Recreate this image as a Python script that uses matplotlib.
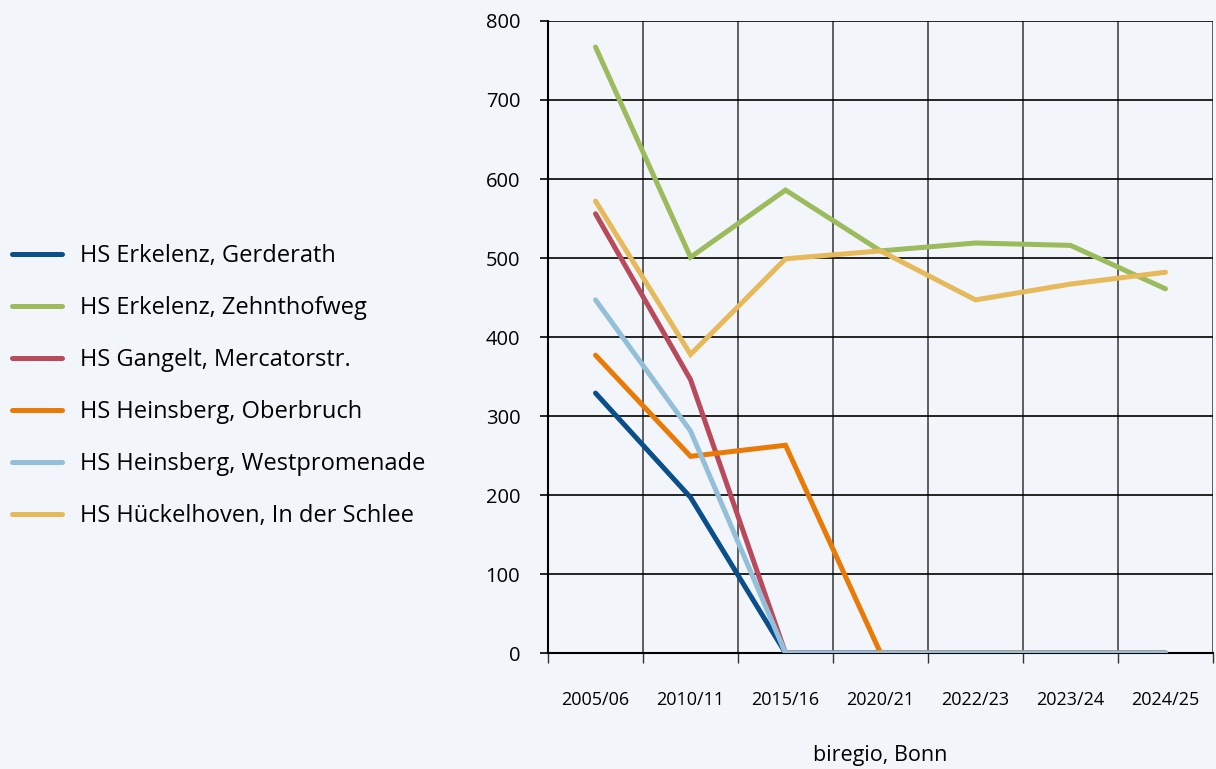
import matplotlib.pyplot as plt
import numpy as np

years = ['2005/06', '2010/11', '2015/16', '2020/21', '2022/23', '2023/24', '2024/25']

gerderath = [329, 197, 0, 0, 0, 0, 0]
zehnthofweg = [767, 501, 586, 509, 519, 516, 461]
gangelt = [556, 346, 0, 0, 0, 0, 0]
oberbruch = [377, 249, 263, 0, 0, 0, 0]
westpromenade = [447, 281, 0, 0, 0, 0, 0]
hueckelhoven = [572, 378, 499, 509, 447, 467, 482]

series = [
    ('HS Erkelenz, Gerderath', gerderath, '#0b4f8a'),
    ('HS Erkelenz, Zehnthofweg', zehnthofweg, '#9bbb5c'),
    ('HS Gangelt, Mercatorstr.', gangelt, '#b84a5b'),
    ('HS Heinsberg, Oberbruch', oberbruch, '#e97a05'),
    ('HS Heinsberg, Westpromenade', westpromenade, '#93bfd9'),
    ('HS Hückelhoven, In der Schlee', hueckelhoven, '#e6b95a'),
]

bg = '#f2f5f9'
plt.rcParams['font.family'] = ['Open Sans', 'DejaVu Sans']

fig = plt.figure(figsize=(12.16, 7.69), dpi=100, facecolor=bg)
ax = fig.add_axes([0.4507, 0.1508, 0.5468, 0.8219], facecolor=bg)

x = np.arange(len(years))
for name, vals, col in series:
    ax.plot(x, vals, color=col, lw=3.6, label=name, solid_capstyle='round',
            solid_joinstyle='miter', zorder=3)

ax.set_xlim(-0.5, len(years) - 0.5)
ax.set_ylim(0, 800)
ax.set_yticks(range(0, 801, 100))
ax.tick_params(axis='y', length=6, width=1.2, pad=14, labelsize=14.5)

# category boundaries as major ticks, labels on minor ticks
ax.set_xticks(np.arange(-0.5, len(years), 1.0))
ax.set_xticklabels([])
ax.set_xticks(x, minor=True)
ax.set_xticklabels(years, minor=True, fontsize=13)
ax.tick_params(axis='x', which='major', length=7, width=1.0, color='#333333')
ax.tick_params(axis='x', which='minor', length=0, pad=27)

ax.grid(True, axis='y', color='black', lw=1.2, zorder=1)
ax.grid(True, axis='x', which='major', color='#444444', lw=1.2, zorder=1)

for s in ['top', 'right']:
    ax.spines[s].set_visible(False)
ax.spines['left'].set_linewidth(1.5)
ax.spines['bottom'].set_linewidth(1.5)
ax.set_axisbelow(True)

fig.text(0.7237, 0.004, 'biregio, Bonn', ha='center', va='bottom', fontsize=15.5)

h, l = ax.get_legend_handles_labels()
fig.legend(h, l, loc='center left', bbox_to_anchor=(0.0, 0.498), frameon=False,
           fontsize=17, handlelength=2.12, handletextpad=0.76, labelspacing=1.19,
           borderaxespad=0.11)

fig.savefig('out.png', dpi=100, facecolor=bg)
